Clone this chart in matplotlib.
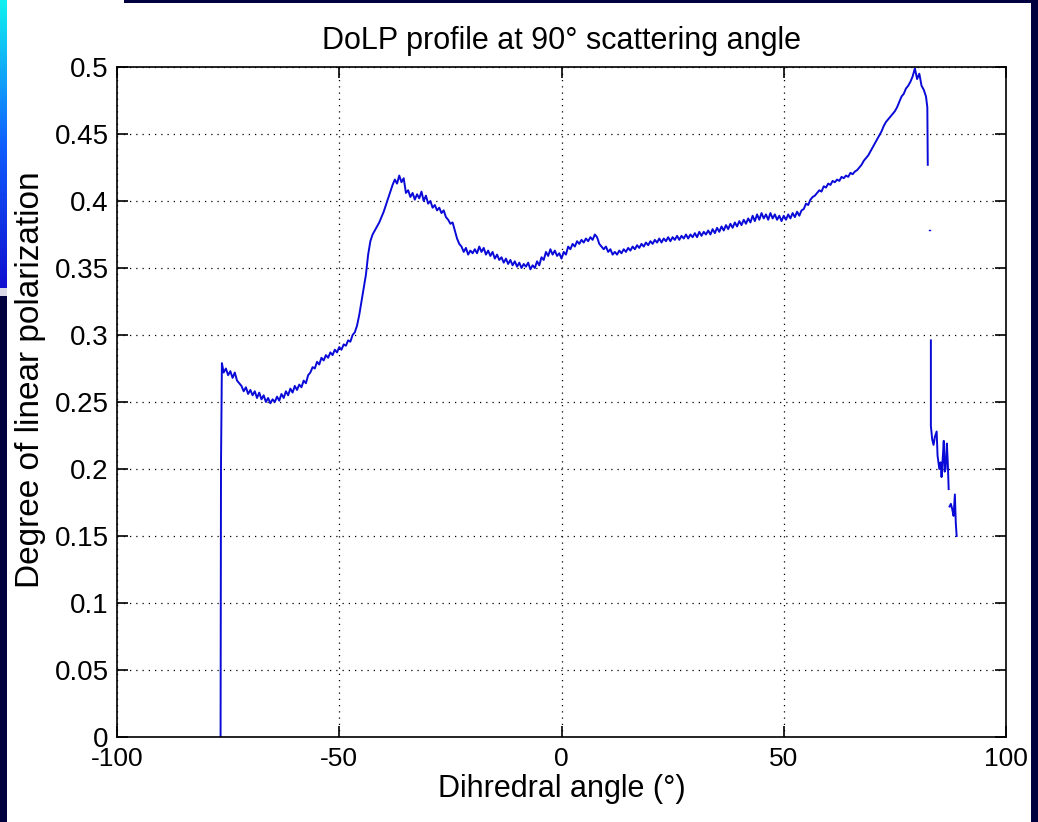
import numpy as np
import matplotlib
matplotlib.use('Agg')
import matplotlib.pyplot as plt
from matplotlib.patches import Rectangle

plt.rcParams['font.family'] = ['Liberation Sans', 'DejaVu Sans']

# main DoLP trace (angle in deg, DoLP)
main_x = [-76.7, -76.6, -76.4, -76.0, -75.5, -75.0, -74.5, -74.0, -73.5, -73.0,
          -72.5, -72.0, -71.5, -71.0, -70.5, -70.0, -69.5, -69.0, -68.5, -68.0,
          -67.5, -67.0, -66.5, -66.0, -65.5, -65.0, -64.5, -64.0, -63.5, -63.0,
          -62.5, -62.0, -61.5, -61.0, -60.5, -60.0, -59.5, -59.0, -58.5, -58.0,
          -57.5, -57.0, -56.5, -56.0, -55.5, -55.0, -54.5, -54.0, -53.5, -53.0,
          -52.5, -52.0, -51.5, -51.0, -50.5, -50.0, -49.5, -49.0, -48.5, -48.0,
          -47.5, -47.0, -46.5, -46.0, -45.5, -45.0, -44.5, -44.0, -43.5, -43.0,
          -42.5, -42.0, -41.5, -41.0, -40.5, -40.0, -39.5, -39.0, -38.5, -38.0,
          -37.5, -37.0, -36.5, -36.0, -35.5, -35.0, -34.5, -34.0, -33.5, -33.0,
          -32.5, -32.0, -31.5, -31.0, -30.5, -30.0, -29.5, -29.0, -28.5, -28.0,
          -27.5, -27.0, -26.5, -26.0, -25.5, -25.0, -24.5, -24.0, -23.5, -23.0,
          -22.5, -22.0, -21.5, -21.0, -20.5, -20.0, -19.5, -19.0, -18.5, -18.0,
          -17.5, -17.0, -16.5, -16.0, -15.5, -15.0, -14.5, -14.0, -13.5, -13.0,
          -12.5, -12.0, -11.5, -11.0, -10.5, -10.0, -9.5, -9.0, -8.5, -8.0,
          -7.5, -7.0, -6.5, -6.0, -5.5, -5.0, -4.5, -4.0, -3.5, -3.0,
          -2.5, -2.0, -1.5, -1.0, -0.5, 0.0, 0.5, 1.0, 1.5, 2.0,
          2.5, 3.0, 3.5, 4.0, 4.5, 5.0, 5.5, 6.0, 6.5, 7.0,
          7.5, 8.0, 8.5, 9.0, 9.5, 10.0, 10.5, 11.0, 11.5, 12.0,
          12.5, 13.0, 13.5, 14.0, 14.5, 15.0, 15.5, 16.0, 16.5, 17.0,
          17.5, 18.0, 18.5, 19.0, 19.5, 20.0, 20.5, 21.0, 21.5, 22.0,
          22.5, 23.0, 23.5, 24.0, 24.5, 25.0, 25.5, 26.0, 26.5, 27.0,
          27.5, 28.0, 28.5, 29.0, 29.5, 30.0, 30.5, 31.0, 31.5, 32.0,
          32.5, 33.0, 33.5, 34.0, 34.5, 35.0, 35.5, 36.0, 36.5, 37.0,
          37.5, 38.0, 38.5, 39.0, 39.5, 40.0, 40.5, 41.0, 41.5, 42.0,
          42.5, 43.0, 43.5, 44.0, 44.5, 45.0, 45.5, 46.0, 46.5, 47.0,
          47.5, 48.0, 48.5, 49.0, 49.5, 50.0, 50.5, 51.0, 51.5, 52.0,
          52.5, 53.0, 53.5, 54.0, 54.5, 55.0, 55.5, 56.0, 56.5, 57.0,
          57.5, 58.0, 58.5, 59.0, 59.5, 60.0, 60.5, 61.0, 61.5, 62.0,
          62.5, 63.0, 63.5, 64.0, 64.5, 65.0, 65.5, 66.0, 66.5, 67.0,
          67.5, 68.0, 68.5, 69.0, 69.5, 70.0, 70.5, 71.0, 71.5, 72.0,
          72.5, 73.0, 73.5, 74.0, 74.5, 75.0, 75.5, 76.0, 76.5, 77.0,
          77.5, 78.0, 78.5, 79.0, 79.5, 80.0, 80.5, 81.0, 81.5, 82.0,
          82.3, 82.4]
main_y = [0.0, 0.205, 0.279, 0.272, 0.275, 0.270, 0.273, 0.268, 0.272, 0.266,
          0.264, 0.262, 0.258, 0.261, 0.256, 0.259, 0.255, 0.258, 0.253, 0.257,
          0.252, 0.255, 0.250, 0.253, 0.249, 0.252, 0.250, 0.254, 0.251, 0.256,
          0.253, 0.258, 0.255, 0.260, 0.257, 0.262, 0.259, 0.263, 0.261, 0.266,
          0.264, 0.270, 0.272, 0.276, 0.275, 0.280, 0.278, 0.283, 0.281, 0.285,
          0.283, 0.287, 0.285, 0.289, 0.287, 0.291, 0.289, 0.293, 0.292, 0.296,
          0.295, 0.300, 0.302, 0.307, 0.315, 0.325, 0.335, 0.345, 0.360, 0.370,
          0.375, 0.378, 0.381, 0.384, 0.388, 0.392, 0.397, 0.402, 0.407, 0.412,
          0.416, 0.413, 0.419, 0.414, 0.417, 0.406, 0.408, 0.403, 0.406, 0.401,
          0.405, 0.402, 0.407, 0.400, 0.404, 0.398, 0.400, 0.395, 0.397, 0.393,
          0.395, 0.391, 0.393, 0.388, 0.386, 0.383, 0.384, 0.378, 0.372, 0.368,
          0.366, 0.362, 0.365, 0.360, 0.363, 0.361, 0.364, 0.361, 0.366, 0.362,
          0.365, 0.360, 0.363, 0.359, 0.362, 0.357, 0.360, 0.356, 0.358, 0.354,
          0.357, 0.353, 0.356, 0.352, 0.355, 0.351, 0.354, 0.350, 0.353, 0.351,
          0.354, 0.349, 0.352, 0.350, 0.355, 0.352, 0.358, 0.356, 0.362, 0.359,
          0.364, 0.360, 0.363, 0.359, 0.361, 0.357, 0.362, 0.360, 0.366, 0.364,
          0.368, 0.366, 0.370, 0.368, 0.371, 0.369, 0.372, 0.370, 0.373, 0.371,
          0.375, 0.373, 0.368, 0.366, 0.364, 0.366, 0.362, 0.364, 0.360, 0.362,
          0.360, 0.363, 0.361, 0.364, 0.362, 0.365, 0.363, 0.366, 0.364, 0.367,
          0.365, 0.368, 0.366, 0.369, 0.367, 0.370, 0.368, 0.371, 0.369, 0.372,
          0.369, 0.372, 0.370, 0.373, 0.370, 0.373, 0.371, 0.374, 0.371, 0.374,
          0.372, 0.375, 0.372, 0.375, 0.373, 0.376, 0.373, 0.377, 0.374, 0.377,
          0.375, 0.378, 0.375, 0.379, 0.376, 0.380, 0.377, 0.381, 0.378, 0.382,
          0.379, 0.383, 0.380, 0.384, 0.381, 0.385, 0.382, 0.386, 0.383, 0.387,
          0.384, 0.389, 0.385, 0.390, 0.386, 0.391, 0.387, 0.390, 0.386, 0.391,
          0.387, 0.390, 0.386, 0.389, 0.385, 0.389, 0.386, 0.390, 0.387, 0.391,
          0.388, 0.392, 0.389, 0.393, 0.394, 0.398, 0.397, 0.401, 0.403, 0.404,
          0.406, 0.408, 0.407, 0.411, 0.410, 0.413, 0.412, 0.415, 0.414, 0.416,
          0.415, 0.418, 0.417, 0.419, 0.418, 0.421, 0.420, 0.422, 0.423, 0.425,
          0.427, 0.430, 0.432, 0.434, 0.437, 0.440, 0.443, 0.446, 0.449, 0.452,
          0.456, 0.459, 0.461, 0.463, 0.465, 0.467, 0.470, 0.474, 0.478, 0.480,
          0.484, 0.486, 0.489, 0.493, 0.499, 0.491, 0.495, 0.486, 0.483, 0.478,
          0.470, 0.427]

# isolated sample after the drop
dot_x = [82.6, 82.8]
dot_y = [0.378, 0.378]

# tail of the trace near 90 deg
tail1_x = [83.1, 83.1, 83.4, 83.7, 84.0, 84.4, 84.6, 85.0, 85.3, 85.5,
           85.8, 86.0, 86.2, 86.4, 86.7, 86.9, 87.1]
tail1_y = [0.296, 0.232, 0.222, 0.218, 0.224, 0.228, 0.210, 0.200, 0.205, 0.194,
           0.210, 0.221, 0.198, 0.200, 0.219, 0.205, 0.185]
tail2_x = [87.3, 87.6, 87.9, 88.2, 88.5, 88.7, 88.9]
tail2_y = [0.172, 0.174, 0.170, 0.165, 0.181, 0.160, 0.150]

xticks = [-100, -50, 0, 50, 100]
xtick_labels = ['-100', '-50', '0', '50', '100']
yticks = [0, 0.05, 0.1, 0.15, 0.2, 0.25, 0.3, 0.35, 0.4, 0.45, 0.5]
ytick_labels = ['0', '0.05', '0.1', '0.15', '0.2', '0.25', '0.3', '0.35',
                '0.4', '0.45', '0.5']

fig = plt.figure(figsize=(10.38, 8.22), dpi=100, facecolor='white')

# slide background bits around the pasted figure
navy = '#00003f'
fig.add_artist(Rectangle((1031/1038, 0), 7/1038, 1, transform=fig.transFigure,
                         facecolor=navy, edgecolor='none'))
fig.add_artist(Rectangle((124/1038, 1 - 3/822), 1, 3/822, transform=fig.transFigure,
                         facecolor=navy, edgecolor='none'))
fig.add_artist(Rectangle((0, 0), 7/1038, 1 - 296/822, transform=fig.transFigure,
                         facecolor=navy, edgecolor='none'))
fig.add_artist(Rectangle((0, 1 - 296/822), 7/1038, 8/822, transform=fig.transFigure,
                         facecolor='#d8d8e8', edgecolor='none'))
gax = fig.add_axes([0, 1 - 288/822, 7/1038, 288/822])
grad = np.linspace(0, 1, 100).reshape(-1, 1)
cmap = matplotlib.colors.LinearSegmentedColormap.from_list('g', ['#10f0f0', '#1060ff', '#1010d0'])
gax.imshow(grad, aspect='auto', cmap=cmap)
gax.axis('off')

ax = fig.add_axes([117/1038, 1 - 737/822, 889/1038, 670/822])
ax.plot(main_x, main_y, color='#0a0ad8', lw=1.4)
ax.plot(dot_x, dot_y, color='#0a0ad8', lw=1.0)
ax.plot(tail1_x, tail1_y, color='#0a0ad8', lw=1.4)
ax.plot(tail2_x, tail2_y, color='#0a0ad8', lw=1.4)

ax.set_xlim(-100, 100)
ax.set_ylim(0, 0.5)
ax.set_xticks(xticks)
ax.set_xticklabels(xtick_labels)
ax.set_yticks(yticks)
ax.set_yticklabels(ytick_labels)
ax.grid(True, color='black', linestyle=(0, (1, 4)), linewidth=0.9)
ax.tick_params(direction='in', top=True, right=True, length=8, width=1.2)
ax.tick_params(axis='x', labelsize=19, pad=7)
ax.tick_params(axis='y', labelsize=20, pad=6)
for s in ax.spines.values():
    s.set_linewidth(1.2)

ax.set_title('DoLP profile at 90° scattering angle', fontsize=22, pad=13)
ax.set_xlabel('Dihredral angle (°)', fontsize=22, labelpad=2)
ax.set_ylabel('Degree of linear polarization', fontsize=24)
ax.yaxis.set_label_coords(-0.080, 0.533)

fig.savefig('out.png', dpi=100, facecolor='white')
